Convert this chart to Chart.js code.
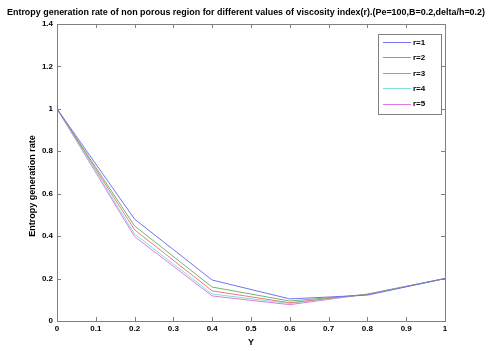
<!DOCTYPE html>
<html><head><meta charset="utf-8">
<script src="https://cdn.jsdelivr.net/npm/chart.js@4/dist/chart.umd.min.js"></script>
<style>html,body{margin:0;padding:0;background:#fff}#wrap{width:490px;height:351px}</style>
</head><body><div id="wrap"><canvas id="c" width="490" height="351"></canvas></div>
<script>
const titleText = "Entropy generation rate of non porous region for different values of viscosity index(r).(Pe=100,B=0.2,delta/h=0.2)";
const xLabel = "Y";
const yLabel = "Entropy generation rate";
const xs = [0, 0.2, 0.4, 0.6, 0.8, 1.0];
const r1 = [1.0, 0.48, 0.193, 0.104, 0.122, 0.2];
const r2 = [1.0, 0.448, 0.16, 0.094, 0.125, 0.2];
const r3 = [1.0, 0.43, 0.142, 0.086, 0.126, 0.2];
const r4 = [1.0, 0.41, 0.127, 0.083, 0.126, 0.2];
const r5 = [1.0, 0.398, 0.118, 0.077, 0.127, 0.2];
const seriesNames = ["r=1","r=2","r=3","r=4","r=5"];
const seriesData = [r1,r2,r3,r4,r5];
const colors = ["#7373f0","#6fb46f","#f07a7a","#7ee0e0","#e07ae6"];
const xTicks = [0,0.1,0.2,0.3,0.4,0.5,0.6,0.7,0.8,0.9,1];
const yTicks = [0,0.2,0.4,0.6,0.8,1,1.2,1.4];

const FONT = "'Liberation Sans', Arial, sans-serif";

const datasets = seriesData.map((d,i)=>({
  label: seriesNames[i],
  data: xs.map((x,j)=>({x:x,y:d[j]})),
  borderColor: colors[i],
  backgroundColor: colors[i],
  borderWidth: 1,
  pointRadius: 0,
  showLine: true,
  tension: 0
}));

const framePlugin = {
  id:'frame',
  afterDraw(chart){
    const ctx = chart.ctx, a = chart.chartArea;
    const xs_ = chart.scales.x, ys_ = chart.scales.y;
    ctx.save();
    ctx.strokeStyle = '#808080';
    ctx.lineWidth = 1;
    ctx.strokeRect(a.left+0.5, a.top+0.5, a.right-a.left, a.bottom-a.top);
    ctx.beginPath();
    const tl = 4;
    xTicks.forEach(v=>{
      const px = Math.round(xs_.getPixelForValue(v))+0.5;
      ctx.moveTo(px, a.bottom); ctx.lineTo(px, a.bottom-tl);
      ctx.moveTo(px, a.top); ctx.lineTo(px, a.top+tl);
    });
    yTicks.forEach(v=>{
      const py = Math.round(ys_.getPixelForValue(v))+0.5;
      ctx.moveTo(a.left, py); ctx.lineTo(a.left+tl, py);
      ctx.moveTo(a.right, py); ctx.lineTo(a.right-tl, py);
    });
    ctx.stroke();
    // title
    ctx.fillStyle = '#000';
    ctx.font = "bold 9px 'Liberation Sans Narrow', " + FONT;
    ctx.textAlign = 'center'; ctx.textBaseline = 'middle';
    const w = ctx.measureText(titleText).width;
    const target = 478;
    ctx.save();
    ctx.translate(246, 13);
    ctx.scale(target/w, 1);
    ctx.fillText(titleText, 0, 0);
    ctx.restore();
    // axis labels
    ctx.font = "bold 9px " + FONT;
    ctx.fillText(xLabel, (a.left+a.right)/2, 343);
    ctx.save();
    ctx.translate(33, 186);
    ctx.rotate(-Math.PI/2);
    ctx.fillText(yLabel, 0, 0);
    ctx.restore();
    // legend
    const bx=378, by=34, bw=63, bh=80;
    ctx.fillStyle='#fff';
    ctx.fillRect(bx,by,bw,bh);
    ctx.strokeStyle='#808080';
    ctx.strokeRect(bx+0.5,by+0.5,bw,bh);
    ctx.font = "bold 8px " + FONT;
    ctx.textAlign='left';
    chart.data.datasets.forEach((ds,i)=>{
      const yy = 42 + i*15.4;
      ctx.strokeStyle = ds.borderColor;
      ctx.beginPath();
      ctx.moveTo(383, Math.round(yy)+0.5); ctx.lineTo(411, Math.round(yy)+0.5);
      ctx.stroke();
      ctx.fillStyle='#000';
      ctx.fillText(ds.label, 413, yy+0.5);
    });
    ctx.restore();
  }
};

new Chart(document.getElementById('c'), {
  type: 'scatter',
  data: { datasets },
  options: {
    responsive: false,
    animation: false,
    layout: { padding: { left: 0, right: 45, top: 24, bottom: 0 } },
    plugins: { legend: { display: false }, title: { display: false }, tooltip: { enabled: false } },
    scales: {
      x: {
        type: 'linear', min: 0, max: 1,
        grid: { display: false, drawTicks: false },
        border: { display: false },
        afterBuildTicks: s => { s.ticks = xTicks.map(v=>({value:v})); },
        afterFit: s => { s.height = 30; },
        ticks: { color:'#000', font: { family: FONT, size: 8, weight: 'bold' }, padding: 3,
          maxRotation: 0, autoSkip: false, callback: v => String(v) }
      },
      y: {
        type: 'linear', min: 0, max: 1.4,
        grid: { display: false, drawTicks: false },
        border: { display: false },
        afterBuildTicks: s => { s.ticks = yTicks.map(v=>({value:v})); },
        afterFit: s => { s.width = 57; },
        ticks: { color:'#000', font: { family: FONT, size: 8, weight: 'bold' }, padding: 4,
          autoSkip: false, callback: v => String(v) }
      }
    }
  },
  plugins: [framePlugin]
});
</script>
</body></html>
